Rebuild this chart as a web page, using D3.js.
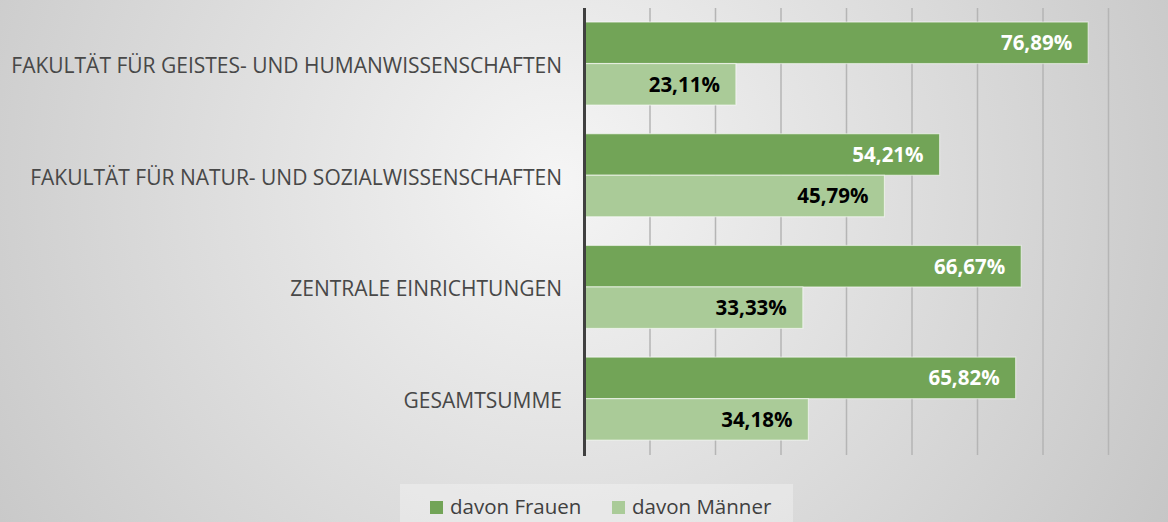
<!DOCTYPE html>
<html>
<head>
<meta charset="utf-8">
<script src="https://cdn.jsdelivr.net/npm/d3@7"></script>
<style>
  html, body { margin: 0; padding: 0; }
  svg { display: block; }
</style>
</head>
<body>
<svg id="chart"></svg>
<script>
var categories = [
  "FAKULTÄT FÜR GEISTES- UND HUMANWISSENSCHAFTEN",
  "FAKULTÄT FÜR NATUR- UND SOZIALWISSENSCHAFTEN",
  "ZENTRALE EINRICHTUNGEN",
  "GESAMTSUMME"
];
var seriesNames = ["davon Frauen", "davon Männer"];
var frauen = [0.7689, 0.5421, 0.6667, 0.6582];
var maenner = [0.2311, 0.4579, 0.3333, 0.3418];
var xTicks = [0, 0.1, 0.2, 0.3, 0.4, 0.5, 0.6, 0.7, 0.8];

var width = 1168, height = 522;
var colors = ["#72a457", "#aacb98"];
var labelColors = ["#ffffff", "#000000"];

var svg = d3.select("#chart").attr("width", width).attr("height", height);

// background
var defs = svg.append("defs");
var grad = defs.append("radialGradient")
  .attr("id", "bg")
  .attr("gradientUnits", "userSpaceOnUse")
  .attr("cx", 560).attr("cy", 180).attr("r", 760);
grad.append("stop").attr("offset", "0%").attr("stop-color", "#f5f5f5");
grad.append("stop").attr("offset", "100%").attr("stop-color", "#c2c2c2");
svg.append("rect").attr("width", width).attr("height", height).attr("fill", "url(#bg)");

var x = d3.scaleLinear().domain([0, 0.8]).range([584.5, 1108.5]);
var y = d3.scaleBand().domain(categories).range([7.7, 454.5])
  .paddingInner(0.257).paddingOuter(0.1285);
var ySub = d3.scaleBand().domain(seriesNames).range([0, y.bandwidth()]);

// gridlines
svg.append("g")
  .selectAll("line")
  .data(xTicks.slice(1))
  .join("line")
  .attr("x1", d => x(d)).attr("x2", d => x(d))
  .attr("y1", 8).attr("y2", 455)
  .attr("stroke", "#b5b5b5")
  .attr("stroke-width", 1.5);

var rows = categories.map((c, i) => ({cat: c, values: [frauen[i], maenner[i]]}));

var groups = svg.append("g")
  .selectAll("g")
  .data(rows)
  .join("g")
  .attr("transform", d => `translate(0,${y(d.cat)})`);

groups.selectAll("rect")
  .data(d => d.values.map((v, j) => ({name: seriesNames[j], value: v, j: j})))
  .join("rect")
  .attr("x", x(0))
  .attr("y", d => ySub(d.name))
  .attr("width", d => x(d.value) - x(0))
  .attr("height", ySub.bandwidth())
  .attr("fill", d => colors[d.j])
  .attr("stroke", "rgba(255,255,255,0.55)")
  .attr("stroke-width", 1.2);

groups.selectAll("text.val")
  .data(d => d.values.map((v, j) => ({name: seriesNames[j], value: v, j: j})))
  .join("text")
  .attr("class", "val")
  .attr("x", d => x(d.value) - 16)
  .attr("y", d => ySub(d.name) + ySub.bandwidth() / 2 + 7.5)
  .attr("text-anchor", "end")
  .attr("font-family", "'Open Sans', sans-serif")
  .attr("font-weight", "bold")
  .attr("font-size", 20.5)
  .attr("fill", d => labelColors[d.j])
  .text(d => d3.format(".2f")(d.value * 100).replace(".", ",") + "%");

// category labels
svg.append("g")
  .selectAll("text")
  .data(categories)
  .join("text")
  .attr("x", 562)
  .attr("y", d => y(d) + y.bandwidth() / 2 + 9.5)
  .attr("text-anchor", "end")
  .attr("font-family", "'Open Sans', sans-serif")
  .attr("font-size", 21)
  .attr("fill", "#484848")
  .text(d => d);

// axis line
svg.append("line")
  .attr("x1", x(0)).attr("x2", x(0))
  .attr("y1", 8).attr("y2", 456)
  .attr("stroke", "#404040")
  .attr("stroke-width", 3);

// legend
var legend = svg.append("g");
legend.append("rect")
  .attr("x", 400).attr("y", 484).attr("width", 393).attr("height", 40)
  .attr("fill", "rgba(255,255,255,0.3)");
var legendX = [430, 612];
var items = legend.selectAll("g")
  .data(seriesNames)
  .join("g")
  .attr("transform", (d, i) => `translate(${legendX[i]},0)`);
items.append("rect")
  .attr("x", 0).attr("y", 501).attr("width", 13).attr("height", 13)
  .attr("fill", (d, i) => colors[i]);
items.append("text")
  .attr("x", 20).attr("y", 514)
  .attr("font-family", "'Open Sans', sans-serif")
  .attr("font-size", 20.5)
  .attr("fill", "#404040")
  .text(d => d);
</script>
</body>
</html>
